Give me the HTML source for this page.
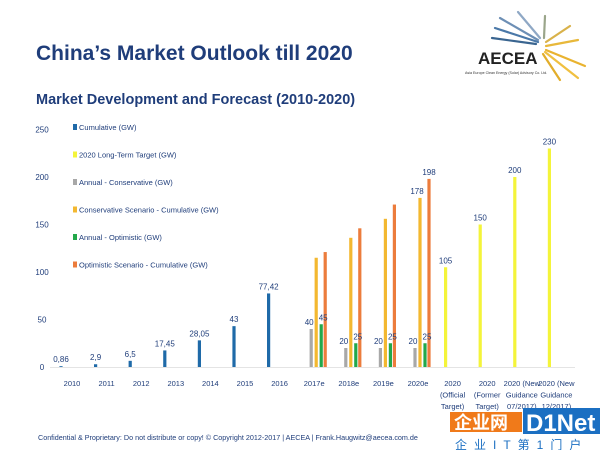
<!DOCTYPE html>
<html><head><meta charset="utf-8">
<style>
body{margin:0;width:600px;height:450px;background:#fff;overflow:hidden;font-family:"Liberation Sans",sans-serif;}
svg{display:block}
</style></head>
<body>
<svg id="c" width="600" height="450" xmlns="http://www.w3.org/2000/svg">
<text x="36" y="60" font-size="21" font-weight="bold" fill="#1f3d7a">China’s Market Outlook till 2020</text>
<text x="36" y="104" font-size="14.5" font-weight="bold" fill="#1f3d7a">Market Development and Forecast (2010-2020)</text>
<g>
<g stroke-width="2.2" stroke-linecap="round">
<line x1="538" y1="42" x2="495" y2="28" stroke="#4a78a8"/>
<line x1="538" y1="40" x2="500" y2="18" stroke="#6d8fb5"/>
<line x1="540" y1="38" x2="518" y2="12" stroke="#8fa8c5"/>
<line x1="536" y1="44" x2="492" y2="38" stroke="#3a6590"/>
<line x1="544" y1="38" x2="545" y2="16" stroke="#9aa58a"/>
<line x1="546" y1="42" x2="570" y2="26" stroke="#d9b24a"/>
<line x1="546" y1="46" x2="578" y2="40" stroke="#e8b83a"/>
<line x1="546" y1="50" x2="585" y2="66" stroke="#e9b330"/>
<line x1="545" y1="52" x2="578" y2="78" stroke="#f0c040"/>
<line x1="543" y1="54" x2="560" y2="80" stroke="#e2ad2a"/>
</g>
<text x="478" y="64" font-size="17" font-weight="bold" fill="#222">AECEA</text>
<text x="465" y="74" font-size="3.6" fill="#333">Asia Europe Clean Energy (Solar) Advisory Co. Ltd.</text>
</g>
<g id="axis"></g>
<g id="bars"></g>
<g id="labels"></g>
<g id="legend"></g>
<text x="38" y="440" font-size="7.2" fill="#1f3d7a">Confidential &amp; Proprietary: Do not distribute or copy! © Copyright 2012-2017 | AECEA  | Frank.Haugwitz@aecea.com.de</text>
<g>
<rect x="450" y="412" width="72" height="20" fill="#f07a1a"/>
<text x="454" y="429" font-size="18" font-weight="bold" fill="#fff" font-family="'Liberation Sans','Noto Sans CJK SC',sans-serif">企业网</text>
<rect x="523" y="408" width="77" height="26" fill="#1b6fc2"/>
<text x="526" y="431" font-size="24" font-weight="bold" fill="#fff">D1Net</text>
<text x="455" y="449" font-size="12" fill="#1b6fc2" font-family="'Liberation Sans','Noto Sans CJK SC',sans-serif" letter-spacing="7">企业IT第1门户</text>
</g>
</svg>
<script>
const categories=["2010","2011","2012","2013","2014","2015","2016","2017e","2018e","2019e","2020e","2020|(Official|Target)","2020|(Former|Target)","2020 (New|Guidance|07/2017)","2020 (New|Guidance|12/2017)"];
const cumulative=[0.86,2.9,6.5,17.45,28.05,43,77.42,null,null,null,null,null,null,null,null];
const cumulativeLabels=["0,86","2,9","6,5","17,45","28,05","43","77,42"];
const annualConservative=[null,null,null,null,null,null,null,40,20,20,20,null,null,null,null];
const conservativeCumulative=[null,null,null,null,null,null,null,115,136,156,178,null,null,null,null];
const annualOptimistic=[null,null,null,null,null,null,null,45,25,25,25,null,null,null,null];
const optimisticCumulative=[null,null,null,null,null,null,null,121,146,171,198,null,null,null,null];
const longTermTarget=[null,null,null,null,null,null,null,null,null,null,null,105,150,200,230];
const yTicks=[0,50,100,150,200,250];
const legendLabels=["Cumulative (GW)","2020 Long-Term Target (GW)","Annual - Conservative (GW)","Conservative Scenario - Cumulative (GW)","Annual - Optimistic (GW)","Optimistic Scenario - Cumulative (GW)"];
const legendColors=["#1f6aa8","#f4f43a","#a8a8a8","#f3b830","#22a84a","#ec7c3c"];

const NS="http://www.w3.org/2000/svg";
const base=367, k=0.95;
const y=v=>base-v*k;
const x=i=>72+34.6*i;
function mk(tag,attrs,parent,text){const e=document.createElementNS(NS,tag);for(const a in attrs)e.setAttribute(a,attrs[a]);if(text!==undefined)e.textContent=text;parent.appendChild(e);return e;}
const axis=document.getElementById('axis'),bars=document.getElementById('bars'),labs=document.getElementById('labels'),leg=document.getElementById('legend');
const txt={"font-size":"8","fill":"#1f3d7a"};
yTicks.forEach(t=>{
 const e=mk('text',Object.assign({x:42,y:y(t)+3,"text-anchor":"middle"},txt),axis,String(t));
 
 
});
const bl=mk('line',{x1:50,x2:575,y1:base+0.5,y2:base+0.5,stroke:"#e4e4e4","stroke-width":1},axis);


categories.forEach((c,i)=>{
 c.split('|').forEach((ln,j)=>{
  const e=mk('text',Object.assign({x:x(i),y:386+j*11.5,"text-anchor":"middle"},txt,{"font-size":"7.5"}),axis,ln);
  
  
 });
});
function bar(v,i,off,color,name,label,lx){
 if(v==null)return;
 const r=mk('rect',{x:x(i)+off-1.6,y:y(v),width:3.2,height:v*k,fill:color},bars);
 
 
 if(label!=null){
  const t=mk('text',Object.assign({x:x(i)+off+(lx||0),y:y(v)-4,"text-anchor":"middle"},txt),labs,label);
  
  
 }
}
categories.forEach((c,i)=>{
 bar(cumulative[i],i,-11,legendColors[0],'bar-cumulative',cumulativeLabels[i],0);
 bar(longTermTarget[i],i,-7,legendColors[1],'bar-long-term-target',longTermTarget[i]!=null?String(longTermTarget[i]):null,0);
 bar(annualConservative[i],i,-3,legendColors[2],'bar-annual-conservative',annualConservative[i]!=null?String(annualConservative[i]):null,-2);
 bar(conservativeCumulative[i],i,2,legendColors[3],'bar-conservative-cumulative',i===10?String(conservativeCumulative[i]):null,-3);
 bar(annualOptimistic[i],i,7,legendColors[4],'bar-annual-optimistic',annualOptimistic[i]!=null?String(annualOptimistic[i]):null,2);
 bar(optimisticCumulative[i],i,11,legendColors[5],'bar-optimistic-cumulative',i===10?String(optimisticCumulative[i]):null,0);
});
legendLabels.forEach((l,i)=>{
 const g=mk('g',{},leg);
 
 
 const yy=130+i*27.5;
 mk('rect',{x:73,y:yy-6,width:4,height:6,fill:legendColors[i]},g);
 mk('text',Object.assign({x:79,y:yy},txt,{"font-size":"7.5"}),g,l);
});
</script>
</body></html>
